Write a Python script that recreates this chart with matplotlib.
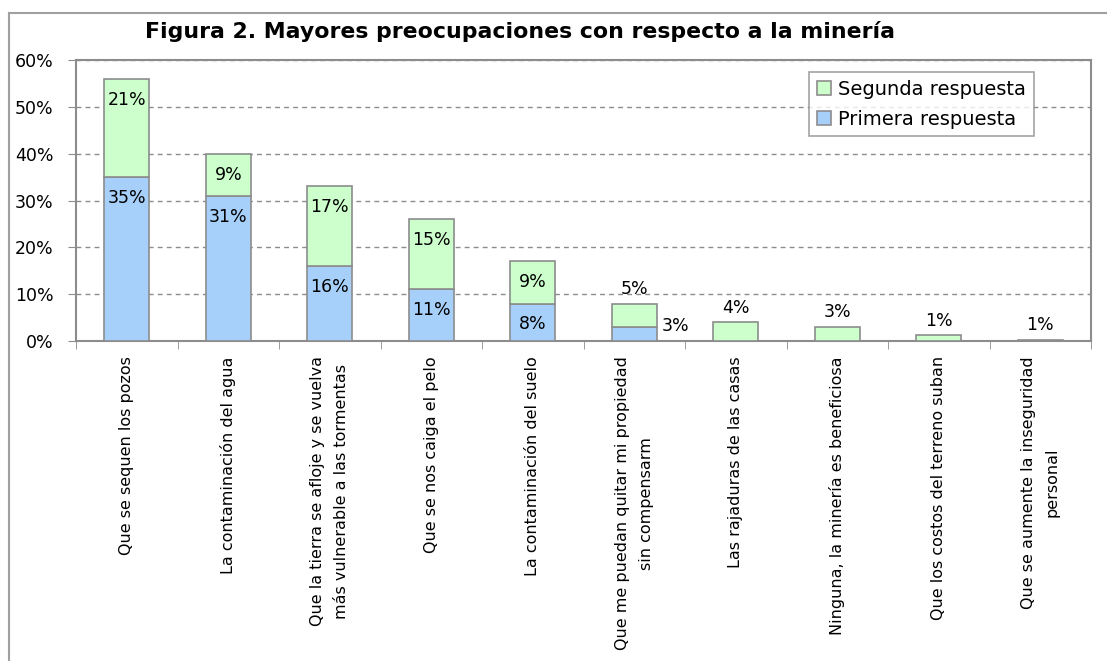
import matplotlib.pyplot as plt
from matplotlib.lines import Line2D
import numpy as np

# Datos de la figura 2
categorias = [
    "Que se sequen los pozos",
    "La contaminación del agua",
    "Que la tierra se afloje y se vuelva\nmás vulnerable a las tormentas",
    "Que se nos caiga el pelo",
    "La contaminación del suelo",
    "Que me puedan quitar mi propiedad\nsin compensarm",
    "Las rajaduras de las casas",
    "Ninguna, la minería es beneficiosa",
    "Que los costos del terreno suban",
    "Que se aumente la inseguridad\npersonal",
]
primera = [35, 31, 16, 11, 8, 3, 0, 0, 0, 0]
segunda = [21, 9, 17, 15, 9, 5, 4, 3, 1.2, 0.3]
etiquetas_primera = ["35%", "31%", "16%", "11%", "8%", "3%", "", "", "", ""]
etiquetas_segunda = ["21%", "9%", "17%", "15%", "9%", "5%", "4%", "3%", "1%", "1%"]
yticks = [0, 10, 20, 30, 40, 50, 60]

AZUL = '#A6CFFA'
VERDE = '#CCFFCC'
GRIS = '#8C8C8C'

plt.rcParams['font.family'] = ['DejaVu Sans']

fig = plt.figure(figsize=(11.07, 6.61), dpi=100)
ax = fig.add_axes([76/1107, 1-341/661, (1091-76)/1107, (341-60)/661])

# marco del grafico (solo se ven el borde superior e izquierdo)
mx = 9.3/1107
my = 1 - 12.7/661
fig.add_artist(Line2D([mx, 1], [my, my], transform=fig.transFigure, color='#A0A0A0', lw=1.5))
fig.add_artist(Line2D([mx, mx], [0, my], transform=fig.transFigure, color='#A0A0A0', lw=1.5))

x = np.arange(len(categorias))
ancho = 0.44
b1 = ax.bar(x, primera, ancho, color=AZUL, edgecolor=GRIS, lw=1.2, label='Primera respuesta', zorder=3)
b2 = ax.bar(x, segunda, ancho, bottom=primera, color=VERDE, edgecolor=GRIS, lw=1.2,
            label='Segunda respuesta', zorder=3)

fs = 12.5
for i in range(len(categorias)):
    tope1 = primera[i]
    tope2 = primera[i] + segunda[i]
    if etiquetas_primera[i]:
        if primera[i] >= 8:
            ax.annotate(etiquetas_primera[i], (x[i], tope1), xytext=(0, -15), textcoords='offset points',
                        ha='center', va='center', fontsize=fs, zorder=4)
        else:
            ax.annotate(etiquetas_primera[i], (x[i] + ancho/2, tope1), xytext=(4, 1), textcoords='offset points',
                        ha='left', va='center', fontsize=fs, zorder=4)
    if segunda[i] >= 8:
        ax.annotate(etiquetas_segunda[i], (x[i], tope2), xytext=(0, -15), textcoords='offset points',
                    ha='center', va='center', fontsize=fs, zorder=4)
    else:
        ax.annotate(etiquetas_segunda[i], (x[i], tope2), xytext=(0, 4), textcoords='offset points',
                    ha='center', va='bottom', fontsize=fs, zorder=4)

ax.set_xlim(-0.5, len(categorias) - 0.5)
ax.set_ylim(0, 60)
ax.set_yticks(yticks)
ax.set_yticklabels([f"{v}%" for v in yticks], fontsize=fs)
ax.tick_params(axis='y', length=6, color=GRIS, pad=10)

ax.set_xticks(x)
ax.set_xticklabels(categorias, rotation=90, fontsize=11.5, ha='center', va='top',
                   multialignment='center', linespacing=1.75)
ax.tick_params(axis='x', which='major', length=0, pad=11)
ax.set_xticks(np.arange(-0.5, len(categorias), 1), minor=True)
ax.tick_params(axis='x', which='minor', length=6, color=GRIS, direction='out')

ax.yaxis.grid(True, linestyle=(0, (3.5, 3)), color=GRIS, lw=1)
ax.set_axisbelow(True)
for s in ax.spines.values():
    s.set_color(GRIS)
    s.set_linewidth(1.5)

leg = ax.legend(handles=[b2, b1], loc='upper left', bbox_to_anchor=(0.722, 0.957),
                borderaxespad=0, fancybox=False, edgecolor=GRIS, fontsize=14,
                handlelength=0.75, handleheight=0.75, handletextpad=0.35,
                labelspacing=0.55, borderpad=0.4)
leg.get_frame().set_linewidth(1.2)

fig.text(520/1107, 1 - 32/661, "Figura 2. Mayores preocupaciones con respecto a la minería",
         ha='center', va='center', fontsize=15.8, fontweight='bold')

fig.savefig('out.png', dpi=100)
